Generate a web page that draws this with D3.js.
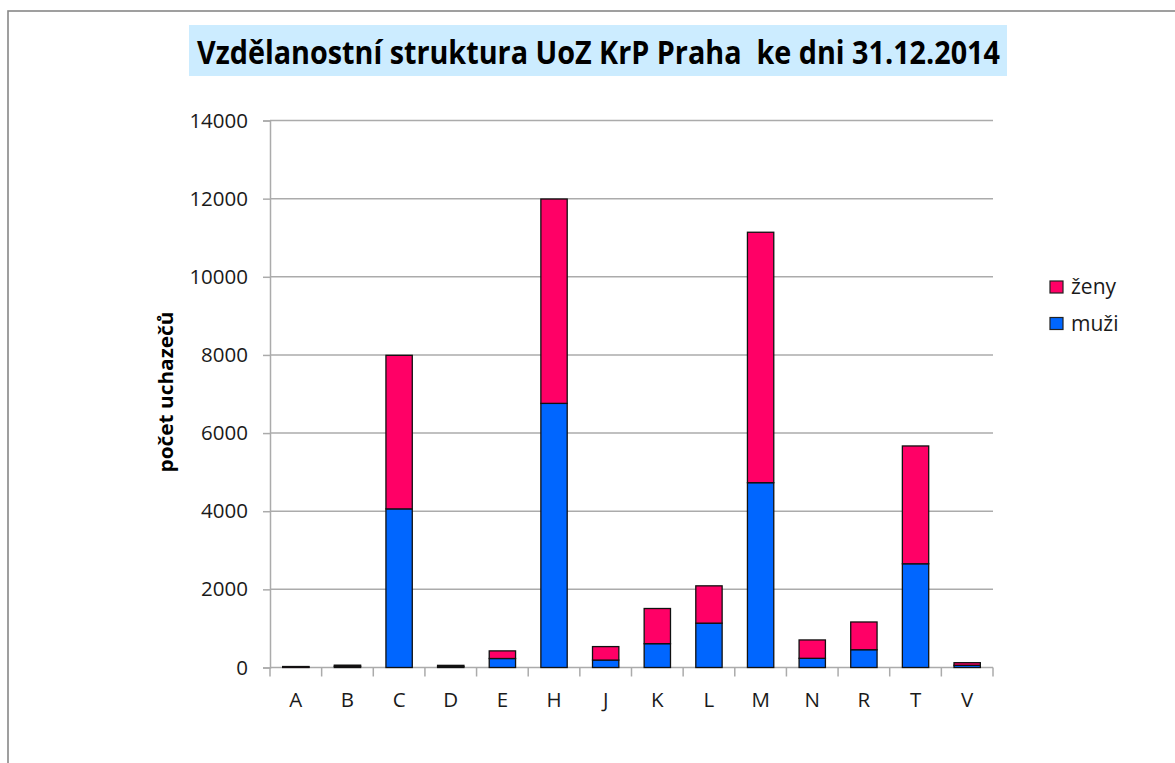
<!DOCTYPE html>
<html>
<head>
<meta charset="utf-8">
<script src="https://cdn.jsdelivr.net/npm/d3@7"></script>
<style>
  html, body { margin: 0; padding: 0; background: #fff; }
  svg { display: block; }
</style>
</head>
<body>
<div id="chart"></div>
<script>
// ---- data ----
const categories = ["A","B","C","D","E","H","J","K","L","M","N","R","T","V"];
const muzi = [10, 30, 4060, 25, 230, 6760, 190, 610, 1135, 4730, 235, 455, 2655, 56];
const zeny = [15, 30, 3930, 30, 195, 5230, 345, 900, 955, 6410, 470, 710, 3015, 67];
const seriesNames = ["muži", "ženy"];
const seriesColors = ["#0066FF", "#FF0066"];
const yTicks = [0, 2000, 4000, 6000, 8000, 10000, 12000, 14000];
const titleText = "Vzdělanostní struktura UoZ KrP Praha  ke dni 31.12.2014";
const yAxisTitle = "počet uchazečů";

const W = 1175, H = 763;
const plot = { left: 270, right: 993, top: 120.5, bottom: 667.5 };
const font = "'Open Sans', 'Noto Sans', sans-serif";

const svg = d3.select("#chart").append("svg")
  .attr("width", W).attr("height", H);

// outer frame
svg.append("rect")
  .attr("x", 8).attr("y", 11)
  .attr("width", W + 20).attr("height", H + 20)
  .attr("fill", "#fff").attr("stroke", "#888").attr("stroke-width", 1.6);

// title
svg.append("rect")
  .attr("x", 189).attr("y", 25).attr("width", 818).attr("height", 51)
  .attr("fill", "#CCECFF");
svg.append("text")
  .attr("x", 197).attr("y", 64)
  .attr("font-family", "'Open Sans', sans-serif")
  .attr("font-weight", "bold")
  .attr("font-size", 32)
  .attr("textLength", 803)
  .attr("lengthAdjust", "spacingAndGlyphs")
  .attr("fill", "#000")
  .style("white-space", "pre")
  .text(titleText);

// scales
const x = d3.scaleBand().domain(categories).range([plot.left, plot.right]).paddingInner(0.49).paddingOuter(0.245);
const xb = d3.scaleBand().domain(categories).range([plot.left, plot.right]);
const y = d3.scaleLinear().domain([0, 14000]).range([plot.bottom, plot.top]);

// gridlines
svg.append("g").selectAll("line").data(yTicks.filter(d => d > 0)).join("line")
  .attr("x1", plot.left).attr("x2", plot.right)
  .attr("y1", d => y(d)).attr("y2", d => y(d))
  .attr("stroke", "#ABABAB").attr("stroke-width", 1.5);

// y axis
const yAxis = svg.append("g").attr("transform", `translate(${plot.left},0)`)
  .call(d3.axisLeft(y).tickValues(yTicks).tickSize(7).tickPadding(15).tickFormat(d3.format("d")));
yAxis.select(".domain").attr("stroke", "#ABABAB").attr("stroke-width", 1.5);
yAxis.selectAll(".tick line").attr("stroke", "#ABABAB").attr("stroke-width", 1.5);
yAxis.selectAll(".tick text").attr("font-family", font).attr("font-size", 20.5).attr("fill", "#1a1a1a");

// x axis
const xAxisG = svg.append("g").attr("transform", `translate(0,${plot.bottom})`);
xAxisG.append("line").attr("x1", plot.left).attr("x2", plot.right).attr("y1", 0).attr("y2", 0)
  .attr("stroke", "#ABABAB").attr("stroke-width", 1.5);
const boundaries = categories.map(c => xb(c)).concat([plot.right]);
xAxisG.selectAll("line.tk").data(boundaries).join("line").attr("class", "tk")
  .attr("x1", d => d).attr("x2", d => d).attr("y1", 0).attr("y2", 9)
  .attr("stroke", "#ABABAB").attr("stroke-width", 1.5);
xAxisG.selectAll("text").data(categories).join("text")
  .attr("x", d => xb(d) + xb.bandwidth() / 2).attr("y", 39)
  .attr("text-anchor", "middle")
  .attr("font-family", font).attr("font-size", 20.5).attr("fill", "#1a1a1a")
  .text(d => d);

// stacked bars
const rows = categories.map((c, i) => ({ cat: c, muzi: muzi[i], zeny: zeny[i] }));
const stack = d3.stack().keys(["muzi", "zeny"])(rows);
svg.append("g").selectAll("g").data(stack).join("g")
  .attr("fill", (d, i) => seriesColors[i])
  .selectAll("rect").data(d => d).join("rect")
  .attr("x", d => x(d.data.cat))
  .attr("width", x.bandwidth())
  .attr("y", d => y(d[1]))
  .attr("height", d => y(d[0]) - y(d[1]))
  .attr("stroke", "#111").attr("stroke-width", 1.3);

// y axis title
svg.append("text")
  .attr("transform", `translate(173,392) rotate(-90)`)
  .attr("text-anchor", "middle")
  .attr("font-family", font).attr("font-weight", "bold").attr("font-size", 20)
  .attr("textLength", 161).attr("lengthAdjust", "spacingAndGlyphs")
  .attr("fill", "#000")
  .text(yAxisTitle);

// legend
const legendItems = [{ name: seriesNames[1], color: seriesColors[1] }, { name: seriesNames[0], color: seriesColors[0] }];
const lg = svg.append("g").selectAll("g").data(legendItems).join("g")
  .attr("transform", (d, i) => `translate(1050,${281 + i * 36.5})`);
lg.append("rect").attr("width", 13).attr("height", 12)
  .attr("fill", d => d.color).attr("stroke", "#222").attr("stroke-width", 1.2);
lg.append("text").attr("x", 21).attr("y", 13)
  .attr("font-family", font).attr("font-size", 21).attr("fill", "#1a1a1a")
  .text(d => d.name);
</script>
</body>
</html>
